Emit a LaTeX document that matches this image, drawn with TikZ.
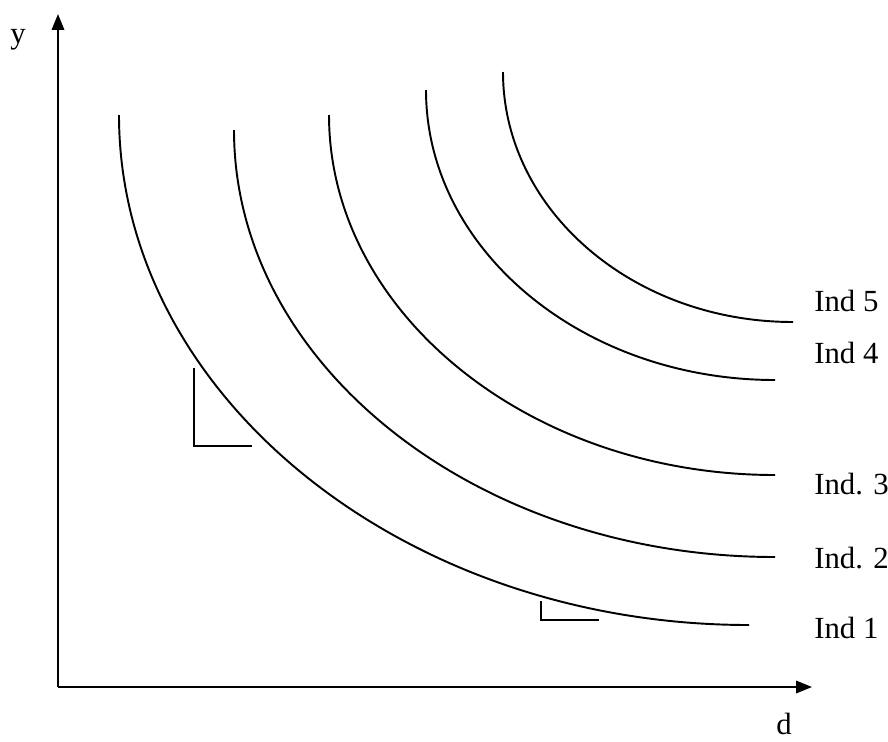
\documentclass[tikz,border=0pt]{standalone}
\usepackage{fontspec}
\setmainfont{Liberation Serif}
\usepackage{tikz}
\usetikzlibrary{arrows.meta, positioning, calc}

\begin{document}
\begin{tikzpicture}[
    x=0.02cm, y=-0.02cm,
    font=\fontsize{17.5}{20}\selectfont,
    axis/.style={-{Triangle[length=9pt, width=7pt]}, line width=1.2pt},
    curve/.style={line width=1.1pt},
    slope/.style={line width=1.2pt},
    lab/.style={anchor=west, inner sep=0pt}
]
\useasboundingbox (0,0) rectangle (888,741);

% Axes
\coordinate (o) at (58, 687);
\coordinate (ytop) at (58, 14);
\coordinate (xend) at (812, 687);
\draw[axis] (o) -- (ytop);
\draw[axis] (o) -- (xend);
\node[inner sep=0pt] (ylab) at (18, 40) {y};
\node[inner sep=0pt] (dlab) at (784, 724) {d};

% Indifference curves (start, end)
\coordinate (s1) at (119, 115); \coordinate (e1) at (749, 625);
\coordinate (s2) at (234, 130); \coordinate (e2) at (775, 557);
\coordinate (s3) at (329, 115); \coordinate (e3) at (775, 475);
\coordinate (s4) at (426, 90);  \coordinate (e4) at (775, 380);
\coordinate (s5) at (503, 72);  \coordinate (e5) at (793, 322);

\draw[curve] (s1) .. controls (119, 395) and (403, 625) .. (e1);
\draw[curve] (s2) .. controls (234, 365) and (477, 557) .. (e2);
\draw[curve] (s3) .. controls (329, 313) and (530, 475) .. (e3);
\draw[curve] (s4) .. controls (426, 250) and (583, 380) .. (e4);
\draw[curve] (s5) .. controls (503, 210) and (633, 322) .. (e5);

% Labels
\node[lab] (ind5) at (814, 301) {Ind 5};
\node[lab] (ind4) at (814, 353) {Ind 4};
\node[lab] (ind3) at (814, 484) {Ind. 3};
\node[lab] (ind2) at (814, 558) {Ind. 2};
\node[lab] (ind1) at (814, 628) {Ind 1};

% Slope marks
\draw[slope] (194, 368) -- (194, 446) -- (252, 446);
\draw[slope] (541, 601) -- (541, 620) -- (599, 620);
\end{tikzpicture}
\end{document}
